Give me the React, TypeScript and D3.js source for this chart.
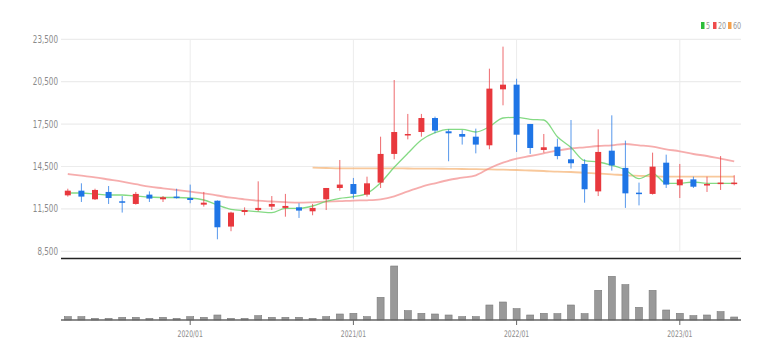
import React from "react";
import * as d3 from "d3";

const months = [
  "2019/04","2019/05","2019/06","2019/07","2019/08","2019/09","2019/10","2019/11","2019/12",
  "2020/01","2020/02","2020/03","2020/04","2020/05","2020/06","2020/07","2020/08","2020/09","2020/10","2020/11","2020/12",
  "2021/01","2021/02","2021/03","2021/04","2021/05","2021/06","2021/07","2021/08","2021/09","2021/10","2021/11","2021/12",
  "2022/01","2022/02","2022/03","2022/04","2022/05","2022/06","2022/07","2022/08","2022/09","2022/10","2022/11","2022/12",
  "2023/01","2023/02","2023/03","2023/04","2023/05",
];
const opens = [12460,12790,12180,12700,12040,11850,12510,12180,12370,12270,11800,12080,10250,11280,11420,11660,11570,11610,11330,12180,12980,13260,12510,13360,15390,16710,16940,17930,16990,16800,16610,16000,19960,20290,17510,15670,15900,15010,14680,12740,15620,14400,12650,12560,14770,13170,13590,13170,13260,13260];
const highs = [12930,13310,12930,13120,12410,12700,12740,12410,12930,13220,12700,12100,11300,11610,13450,12410,12560,11900,11850,12980,14960,13690,13780,16610,20620,18220,18220,18030,17130,17080,17180,21420,22980,20710,17510,16800,16470,17790,15010,17130,18120,16330,13360,15480,15340,14680,13780,13780,15240,13880];
const lows = [12370,11990,12130,11850,11240,11800,11990,11990,12230,11900,11660,9350,9920,11050,11330,11420,10950,10860,11050,11420,12790,12230,12370,12980,15010,16420,16610,16850,14870,16050,15430,15720,18830,15530,15390,15480,15010,14350,11940,12410,14210,11570,11750,12510,12980,12270,12980,12700,12840,13170];
const closes = [12790,12370,12840,12270,11940,12560,12230,12320,12270,12130,11940,10200,11240,11420,11570,11850,11710,11380,11570,12980,13220,12560,13310,15390,16940,16800,17930,17040,16850,16610,16050,20010,20290,16750,15810,15860,15240,14730,12890,15530,14580,12600,12560,14490,13220,13590,13070,13260,13360,13360];
const volumes = [200,200,100,100,160,160,100,160,100,200,160,300,100,100,260,160,160,160,100,200,360,400,200,1360,3240,560,400,360,300,200,200,900,1080,680,300,400,380,900,380,1780,2620,2120,760,1780,600,400,260,300,500,180];
const ma5 = [12625,12625,12554,12484,12484,12413,12342,12307,12307,12272,12130,11776,11472,11373,11302,11231,11543,11543,11705,12038,12250,12363,12604,13354,14444,15434,16376,16892,17133,17133,16942,17317,17932,17982,17840,17791,16609,15845,14911,14819,14585,14253,13637,14019,13312,13312,13404,13312,13312,13312];
const ma20 = [13970,13849,13736,13581,13425,13248,13071,12958,12838,12717,12604,12448,12293,12180,12080,12024,11974,11939,11967,12010,12045,12088,12110,12180,12390,12740,13060,13312,13545,13708,13878,14373,14769,15052,15243,15434,15618,15774,15859,15951,16001,16093,16001,15902,15718,15576,15385,15243,15052,14868];
const ma60 = [null,null,null,null,null,null,null,null,null,null,null,null,null,null,null,null,null,null,14416,14394,14373,14373,14373,14373,14373,14359,14352,14345,14338,14324,14310,14296,14275,14253,14218,14182,14132,14111,14055,13998,13942,13878,13843,13808,13779,13779,13779,13779,13779,13779];
const priceTicks = [8500, 11500, 14500, 17500, 20500, 23500];
const timeTicks = ["2020/01", "2021/01", "2022/01", "2023/01"];
const legendItems = [
  { label: "5", color: "#2dbd3a" },
  { label: "20", color: "#ef4b4b" },
  { label: "60", color: "#f5a04a" },
];

const W = 781, H = 359;
const left = 61, right = 741;
const UP = "#e8383d", DOWN = "#1f75e6";
const FONT = "'Liberation Sans Narrow', 'DejaVu Sans Condensed', sans-serif";

export default function App() {
  const x = d3.scaleBand<string>().domain(months).range([left, right]).padding(0);
  const cx = (m: string) => (x(m) as number) + x.bandwidth() / 2;
  const y = d3.scaleLinear().domain([8500, 23500]).range([251.3, 39.3]);
  const vy = d3.scaleLinear().domain([0, 3240]).range([320, 266]);
  const fmt = d3.format(",");

  const lineGen = (vals: (number | null)[]) =>
    d3.line<number | null>()
      .defined((d) => d != null)
      .x((_, i) => cx(months[i]))
      .y((d) => y(d as number))
      .curve(d3.curveMonotoneX)(vals) || "";

  const bodyW = 6;
  const barW = 7;

  return (
    <svg width={W} height={H} style={{ position: "absolute", left: 0, top: 0, background: "#fff" }}>
      {priceTicks.map((t) => (
        <line key={"g" + t} x1={left} x2={right} y1={y(t)} y2={y(t)} stroke="#ececec" strokeWidth={1.2} />
      ))}
      {timeTicks.map((t) => (
        <line key={"v" + t} x1={cx(t)} x2={cx(t)} y1={y(23500)} y2={y(8500)} stroke="#ececec" strokeWidth={1} />
      ))}
      {priceTicks.map((t) => (
        <text
          key={"l" + t}
          transform={`translate(58,${y(t) + 3.5}) scale(0.8,1)`}
          textAnchor="end"
          fontSize={10}
          fill="#8a8a8a"
          fontFamily={FONT}
        >
          {fmt(t)}
        </text>
      ))}
      <path d={lineGen(ma60)} fill="none" stroke="#f5b57a" strokeOpacity={0.75} strokeWidth={1.8} />
      <path d={lineGen(ma20)} fill="none" stroke="#f28a8a" strokeOpacity={0.7} strokeWidth={1.8} />
      <path d={lineGen(ma5)} fill="none" stroke="#6fd36f" strokeOpacity={0.85} strokeWidth={1.3} />
      {months.map((m, i) => {
        const o = opens[i], c = closes[i], h = highs[i], l = lows[i];
        const col = c >= o ? UP : DOWN;
        const top = y(Math.max(o, c));
        const bh = Math.max(1.5, y(Math.min(o, c)) - top);
        return (
          <g key={m}>
            <line x1={cx(m)} x2={cx(m)} y1={y(h)} y2={y(l)} stroke={col} strokeOpacity={0.75} strokeWidth={1} />
            <rect x={cx(m) - bodyW / 2} y={top} width={bodyW} height={bh} fill={col} />
          </g>
        );
      })}
      <line x1={left} x2={right} y1={258.5} y2={258.5} stroke="#222" strokeWidth={1.6} />
      {months.map((m, i) => (
        <rect
          key={"vb" + m}
          x={cx(m) - barW / 2}
          y={vy(volumes[i])}
          width={barW}
          height={320 - vy(volumes[i])}
          fill="#999"
          stroke="#7a7a7a"
          strokeWidth={0.6}
        />
      ))}
      <line x1={left} x2={right} y1={320} y2={320} stroke="#666" strokeWidth={1.6} />
      {timeTicks.map((t) => (
        <g key={"tt" + t}>
          <line x1={cx(t)} x2={cx(t)} y1={320} y2={325} stroke="#666" strokeWidth={1} />
          <text
            transform={`translate(${cx(t)},337) scale(0.75,1)`}
            textAnchor="middle"
            fontSize={9}
            fill="#8a8a8a"
            fontFamily={FONT}
          >
            {t}
          </text>
        </g>
      ))}
      {legendItems.map((it, i) => {
        const lx = [701, 713, 728][i];
        return (
          <g key={"lg" + it.label}>
            <rect x={lx} y={22} width={3.5} height={7} fill={it.color} />
            <text transform={`translate(${lx + 5},29) scale(0.8,1)`} fontSize={9} fill="#999" fontFamily={FONT}>
              {it.label}
            </text>
          </g>
        );
      })}
    </svg>
  );
}
